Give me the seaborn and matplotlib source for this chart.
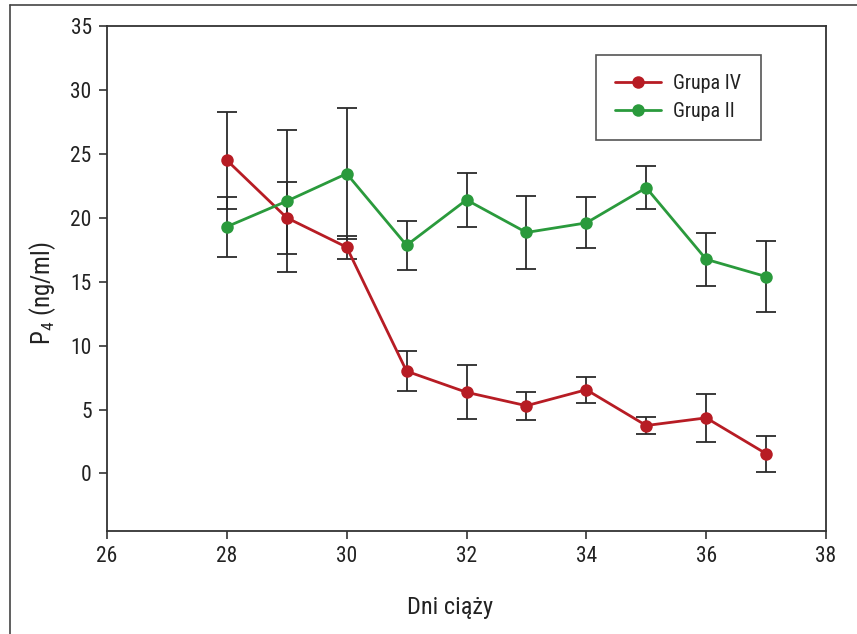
import matplotlib
matplotlib.use("Agg")
import matplotlib.pyplot as plt
import matplotlib.lines as mlines
import seaborn as sns
import pandas as pd
import numpy as np
from matplotlib import font_manager

days = [28, 29, 30, 31, 32, 33, 34, 35, 36, 37]
grupa_iv = [24.5, 20.0, 17.7, 8.0, 6.35, 5.3, 6.55, 3.75, 4.35, 1.55]
grupa_iv_err = [3.8, 2.8, 0.9, 1.55, 2.1, 1.1, 1.0, 0.65, 1.85, 1.4]
grupa_ii = [19.3, 21.3, 23.45, 17.85, 21.4, 18.85, 19.6, 22.35, 16.75, 15.4]
grupa_ii_err = [2.35, 5.55, 5.1, 1.9, 2.1, 2.85, 2.0, 1.7, 2.05, 2.8]
labels = ["Grupa IV", "Grupa II"]
colors = {"Grupa IV": "#B71C24", "Grupa II": "#2A9A3C"}

sns.set_theme(style="white")
avail = {f.name for f in font_manager.fontManager.ttflist}
fams = [f for f in ["Liberation Sans Narrow", "Roboto Condensed", "DejaVu Sans Condensed", "DejaVu Sans"] if f in avail]
plt.rcParams["font.family"] = fams
plt.rcParams["mathtext.fontset"] = "custom"
plt.rcParams["mathtext.rm"] = fams[0]
plt.rcParams["mathtext.it"] = fams[0]

df = pd.DataFrame({
    "day": days * 2,
    "value": grupa_iv + grupa_ii,
    "group": ["Grupa IV"] * len(days) + ["Grupa II"] * len(days),
})

fig = plt.figure(figsize=(8.57, 6.34), dpi=100)
ax = fig.add_axes([107 / 857, 1 - 531 / 634, (826 - 107) / 857, (531 - 26) / 634])

for vals, errs in [(grupa_iv, grupa_iv_err), (grupa_ii, grupa_ii_err)]:
    ax.errorbar(days, vals, yerr=errs, fmt="none", ecolor="#2b2b2b",
                elinewidth=1.3, capsize=7.5, capthick=1.3, zorder=2)

sns.lineplot(data=df, x="day", y="value", hue="group", hue_order=labels,
             palette=colors, marker="o", markersize=9, markeredgewidth=0,
             linewidth=2.0, ax=ax, legend=False, zorder=3)

ax.set_xlim(26, 38)
ax.set_ylim(-4.5, 35)
ax.set_xticks(np.arange(26, 39, 2))
ax.set_yticks(np.arange(0, 36, 5))
ax.tick_params(axis="both", direction="out", length=6, width=1.2, color="#333333",
               labelsize=15.5, labelcolor="#222222", pad=5, left=True, bottom=True)
for s in ax.spines.values():
    s.set_visible(True)
    s.set_color("#333333")
    s.set_linewidth(1.3)

ax.set_xlabel("Dni ciąży", fontsize=17.5, color="#222222")
ax.xaxis.set_label_coords(0.477, -0.128)
ax.set_ylabel("P$_4$ (ng/ml)", fontsize=18, color="#222222")
ax.yaxis.set_label_coords(-0.068, 0.471)

handles = [mlines.Line2D([], [], color=colors[l], marker="o", markersize=9,
                         markeredgewidth=0, linewidth=2.0) for l in labels]
leg = ax.legend(handles, labels, loc="upper left", bbox_to_anchor=(0.680, 0.943),
                fontsize=14.5, frameon=True, fancybox=False, edgecolor="#555555",
                handlelength=2.3, labelspacing=0.45, borderpad=0.95, handletextpad=0.6,
                borderaxespad=0, framealpha=1)
leg.get_frame().set_linewidth(1.2)
for t in leg.get_texts():
    t.set_color("#222222")

# outer frame (top and left edges)
fig.add_artist(mlines.Line2D([10 / 857, 1], [1 - 5 / 634, 1 - 5 / 634],
                             transform=fig.transFigure, color="#444444", lw=1.2))
fig.add_artist(mlines.Line2D([10 / 857, 10 / 857], [0, 1 - 5 / 634],
                             transform=fig.transFigure, color="#444444", lw=1.2))

fig.savefig("out.png", dpi=100)
